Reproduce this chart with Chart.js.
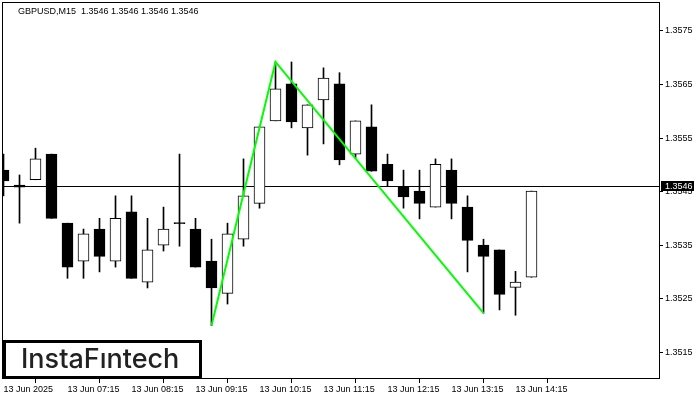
<!DOCTYPE html>
<html>
<head>
<meta charset="utf-8">
<script src="https://cdn.jsdelivr.net/npm/chart.js@4.4.0/dist/chart.umd.min.js"></script>
<style>
  html, body { margin: 0; padding: 0; background: #fff; }
</style>
</head>
<body>
<canvas id="chart" width="700" height="400"></canvas>
<script>
// GBPUSD M15 candles, index 0 = 13 Jun 06:15
const candleOpen  = [1.35490, 1.35462, 1.35472, 1.35520, 1.35391, 1.35320, 1.35380, 1.35320, 1.35412, 1.35281,
                     1.35350, 1.35392, 1.35380, 1.35320, 1.35260, 1.35361, 1.35428, 1.35582, 1.35651, 1.35569,
                     1.35621, 1.35651, 1.35520, 1.35571, 1.35501, 1.35460, 1.35451, 1.35421, 1.35490, 1.35421,
                     1.35350, 1.35341, 1.35271, 1.35290];
const candleHigh  = [1.35520, 1.35481, 1.35531, 1.35520, 1.35391, 1.35380, 1.35400, 1.35442, 1.35442, 1.35400,
                     1.35421, 1.35520, 1.35400, 1.35361, 1.35391, 1.35511, 1.35571, 1.35692, 1.35692, 1.35612,
                     1.35681, 1.35672, 1.35582, 1.35612, 1.35520, 1.35490, 1.35490, 1.35511, 1.35511, 1.35442,
                     1.35361, 1.35341, 1.35301, 1.35451];
const candleLow   = [1.35442, 1.35391, 1.35472, 1.35400, 1.35288, 1.35288, 1.35300, 1.35309, 1.35288, 1.35270,
                     1.35339, 1.35348, 1.35309, 1.35200, 1.35240, 1.35348, 1.35419, 1.35582, 1.35569, 1.35518,
                     1.35539, 1.35500, 1.35513, 1.35488, 1.35460, 1.35419, 1.35399, 1.35421, 1.35399, 1.35300,
                     1.35223, 1.35229, 1.35219, 1.35290];
const candleClose = [1.35470, 1.35458, 1.35511, 1.35400, 1.35309, 1.35371, 1.35329, 1.35400, 1.35288, 1.35341,
                     1.35380, 1.35390, 1.35309, 1.35270, 1.35371, 1.35442, 1.35571, 1.35642, 1.35580, 1.35612,
                     1.35662, 1.35509, 1.35582, 1.35488, 1.35470, 1.35440, 1.35428, 1.35501, 1.35428, 1.35359,
                     1.35329, 1.35258, 1.35281, 1.35451];

// pattern line (double top style zigzag)
const patternIdx   = [13, 17, 30];
const patternPrice = [1.35200, 1.35692, 1.35223];

const xTickIdx    = [0, 4, 8, 12, 16, 20, 24, 28, 32];
const xTickLabels = ['13 Jun 2025', '13 Jun 07:15', '13 Jun 08:15', '13 Jun 09:15', '13 Jun 10:15',
                     '13 Jun 11:15', '13 Jun 12:15', '13 Jun 13:15', '13 Jun 14:15'];
const yTicks      = [1.3515, 1.3525, 1.3535, 1.3545, 1.3555, 1.3565, 1.3575];

const lastPrice = 1.3546;
const titleText = 'GBPUSD,M15  1.3546 1.3546 1.3546 1.3546';

Chart.defaults.font.family = '"Liberation Sans", Arial, sans-serif';
Chart.defaults.font.size = 9;
Chart.defaults.color = '#000';

const wicks  = candleHigh.map((h, i) => ({ x: i, y: [candleLow[i], h] }));
const bodies = candleOpen.map((o, i) => ({ x: i, y: [o, candleClose[i]] }));
const bodyColors = candleOpen.map((o, i) => candleClose[i] >= o ? '#ffffff' : '#000000');
const pattern = patternIdx.map((x, i) => ({ x: x, y: patternPrice[i] }));

const overlay = {
    id: 'overlay',
    beforeDatasetsDraw(chart) {
        const { ctx, chartArea: a, scales: { y } } = chart;
        const py = Math.round(y.getPixelForValue(lastPrice)) + 0.5;
        ctx.save();
        ctx.strokeStyle = '#000';
        ctx.lineWidth = 1;
        ctx.beginPath();
        ctx.moveTo(a.left, py);
        ctx.lineTo(a.right, py);
        ctx.stroke();
        ctx.restore();
    },
    afterDraw(chart) {
        const { ctx, chartArea: a, scales: { y } } = chart;
        ctx.save();
        // frame
        ctx.strokeStyle = '#000';
        ctx.lineWidth = 1;
        ctx.strokeRect(a.left + 0.5, a.top + 0.5, a.right - a.left - 1, a.bottom - a.top - 1);

        // title
        ctx.fillStyle = '#000';
        ctx.font = '9px "Liberation Sans", Arial, sans-serif';
        ctx.textBaseline = 'alphabetic';
        ctx.textAlign = 'left';
        ctx.fillText(titleText, 18, 14);

        // current price tag
        const py = Math.round(y.getPixelForValue(lastPrice));
        ctx.fillStyle = '#000';
        ctx.fillRect(661, py - 5, 33, 10);
        ctx.fillStyle = '#fff';
        ctx.textBaseline = 'middle';
        ctx.fillText(lastPrice.toFixed(4), 665, py + 0.5);

        // logo
        ctx.fillStyle = '#fff';
        ctx.fillRect(3, 340, 199, 39);
        ctx.lineWidth = 3;
        ctx.strokeStyle = '#000';
        ctx.strokeRect(4.5, 341.5, 196, 36);
        ctx.fillStyle = '#222';
        ctx.font = '500 27px Inter, "Noto Sans", sans-serif';
        ctx.textBaseline = 'alphabetic';
        ctx.fillText('InstaFıntech', 21, 368);
        ctx.restore();
    }
};

new Chart(document.getElementById('chart'), {
    type: 'bar',
    data: {
        datasets: [
            {
                type: 'line',
                data: pattern,
                borderColor: '#00ff00',
                borderWidth: 2,
                pointRadius: 0,
                tension: 0,
                order: 0,
                clip: 0
            },
            {
                data: bodies,
                backgroundColor: bodyColors,
                borderColor: '#000',
                borderWidth: 1,
                borderSkipped: false,
                barThickness: 11,
                grouped: false,
                order: 1,
                clip: 0
            },
            {
                data: wicks,
                backgroundColor: '#000',
                borderWidth: 0,
                barThickness: 1,
                grouped: false,
                order: 2,
                clip: 0
            }
        ]
    },
    options: {
        responsive: false,
        animation: false,
        layout: { padding: { left: 2, top: 2, right: 0, bottom: 0 } },
        plugins: { legend: { display: false }, tooltip: { enabled: false }, title: { display: false } },
        scales: {
            x: {
                type: 'linear',
                offset: false,
                min: -0.09375,
                max: 41.03125,
                position: 'bottom',
                border: { display: false },
                grid: { display: true, drawOnChartArea: false, drawTicks: true, tickLength: 4, color: '#000' },
                afterBuildTicks: (s) => { s.ticks = xTickIdx.map(v => ({ value: v })); },
                afterFit: (s) => { s.height = 21; s.paddingLeft = 0; s.paddingRight = 0; },
                ticks: {
                    align: 'start',
                    maxRotation: 0,
                    autoSkip: false,
                    padding: 1,
                    color: '#000',
                    callback: (v) => xTickLabels[xTickIdx.indexOf(v)]
                }
            },
            y: {
                type: 'linear',
                position: 'right',
                beginAtZero: false,
                min: 1.35100,
                max: 1.35804,
                border: { display: false },
                grid: { display: true, drawOnChartArea: false, drawTicks: true, tickLength: 3, color: '#000' },
                afterBuildTicks: (s) => { s.ticks = yTicks.map(v => ({ value: v })); },
                afterFit: (s) => { s.width = 40; s.paddingTop = 0; s.paddingBottom = 0; },
                ticks: {
                    padding: 2,
                    color: '#000',
                    callback: (v) => v.toFixed(4)
                }
            }
        }
    },
    plugins: [overlay]
});
</script>
</body>
</html>
